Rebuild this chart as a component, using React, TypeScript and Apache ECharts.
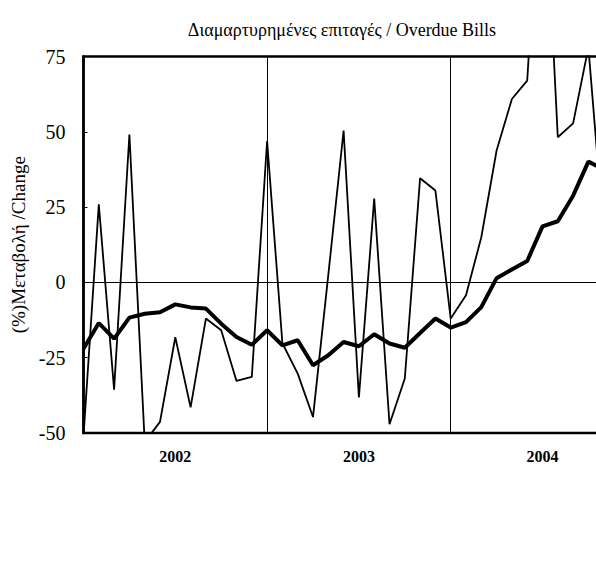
import React, { useEffect, useRef } from "react";
import * as echarts from "echarts";

const TITLE = "Διαμαρτυρημένες επιταγές / Overdue Bills";
const Y_NAME = "(%)Μεταβολή /Change";

const YEARS = ["2002", "2003", "2004"];
// monthly categories Jan 2002 .. Jan 2005
const MONTHS: string[] = [];
for (const y of ["2002", "2003", "2004"]) {
  for (let m = 1; m <= 12; m++) MONTHS.push(`${y}-${m < 10 ? "0" + m : m}`);
}
MONTHS.push("2005-01");

const Y_TICKS = [-50, -25, 0, 25, 50, 75];

// thin line: monthly change
const monthlyChange = [
  -51, 25.9, -35.6, 49.1, -53, -46.3, -18.2, -41.5, -12.0, -15.9, -32.7, -31.4,
  46.9, -20.2, -30.3, -44.7, 2.5, 50.4, -38.2, 27.8, -47.1, -31.9, 34.6, 30.5,
  -12.0, -4.3, 15.0, 43.8, 60.9, 67.0, 150, 48.2, 52.8, 78, 16,
];

// thick line: smoothed change
const smoothedChange = [
  -22.0, -13.5, -18.7, -11.7, -10.4, -9.9, -7.3, -8.3, -8.7, -13.7, -18.1, -20.7,
  -15.9, -20.9, -19.2, -27.5, -24.2, -19.8, -21.2, -17.2, -20.3, -21.7, -16.8, -12.0,
  -15.0, -13.2, -8.2, 1.4, 4.3, 7.1, 18.6, 20.3, 28.8, 40.1, 37.5,
];

const SERIF = '"Liberation Serif", "Times New Roman", serif';
const CHART_W = 650;

export default function App() {
  const ref = useRef<HTMLDivElement>(null);
  useEffect(() => {
    if (!ref.current) return;
    const chart = echarts.init(ref.current, null, { renderer: "svg" });
    chart.setOption({
      animation: false,
      backgroundColor: "#fff",
      grid: {
        left: 83.5,
        top: 56.5,
        right: CHART_W - 634.3,
        bottom: 153,
        show: true,
        borderColor: "#000",
        borderWidth: 2.5,
        backgroundColor: "transparent",
      },
      graphic: [
        {
          type: "text",
          x: 342,
          y: 30,
          style: {
            text: TITLE,
            textAlign: "center",
            textVerticalAlign: "middle",
            fontFamily: SERIF,
            fontSize: 18,
            fill: "#000",
          },
        },
      ],
      xAxis: {
        type: "category",
        data: MONTHS,
        boundaryGap: false,
        axisLine: { show: false, onZero: false },
        axisTick: { show: false },
        axisLabel: {
          interval: (index: number) => index % 12 === 6,
          formatter: (v: string) => {
            const y = v.slice(0, 4);
            return YEARS.includes(y) ? y : "";
          },
          fontFamily: SERIF,
          fontWeight: "bold",
          fontSize: 16,
          color: "#000",
          margin: 15,
        },
        splitLine: {
          show: true,
          interval: (index: number) => index % 12 === 0 && index > 0,
          lineStyle: { color: "#000", width: 1 },
        },
      },
      yAxis: {
        type: "value",
        min: Y_TICKS[0],
        max: Y_TICKS[Y_TICKS.length - 1],
        interval: 25,
        name: Y_NAME,
        nameLocation: "middle",
        nameGap: 52,
        nameTextStyle: { fontFamily: SERIF, fontSize: 19, color: "#000" },
        axisLine: { show: true, lineStyle: { color: "#000", width: 2.5 } },
        axisTick: { show: true, inside: true, length: 4, lineStyle: { color: "#000", width: 1 } },
        axisLabel: { fontFamily: SERIF, fontSize: 20, color: "#000", margin: 18 },
        splitLine: { show: false },
      },
      series: [
        {
          type: "line",
          data: monthlyChange,
          symbol: "none",
          lineStyle: { color: "#000", width: 1.8 },
          clip: true,
          z: 3,
        },
        {
          type: "line",
          data: smoothedChange,
          symbol: "none",
          lineStyle: { color: "#000", width: 4 },
          clip: true,
          z: 4,
          markLine: {
            silent: true,
            symbol: "none",
            label: { show: false },
            lineStyle: { color: "#000", width: 1, type: "solid" },
            data: [{ yAxis: 0 }],
          },
        },
      ],
    });
    return () => chart.dispose();
  }, []);
  return (
    <div
      style={{
        position: "fixed",
        left: 0,
        top: 0,
        width: 596,
        height: 586,
        overflow: "hidden",
        background: "#fff",
      }}
    >
      <div ref={ref} style={{ width: CHART_W, height: 586 }} />
    </div>
  );
}
